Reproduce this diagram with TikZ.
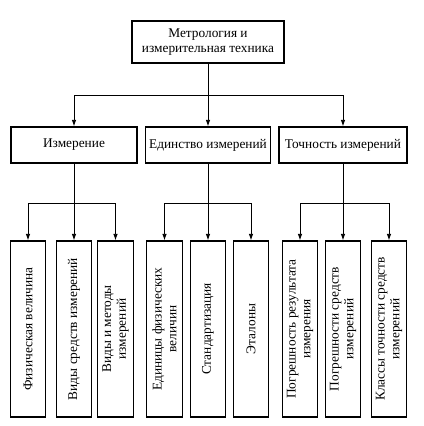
\documentclass[tikz,border=0pt]{standalone}
\usepackage{fontspec}
\setmainfont{Liberation Serif}
\usetikzlibrary{arrows.meta}

\tikzset{
  box/.style={draw, line width=0.8pt, align=center, inner sep=2pt, font=\fontsize{10}{11}\selectfont},
  vbox/.style={box, rotate=90, minimum width=132pt, minimum height=26.5pt},
  arr/.style={-{Latex[length=5pt,width=3.5pt]}, line width=0.7pt}
}

\begin{document}
\begin{tikzpicture}[x=0.75pt, y=-0.75pt]
  \useasboundingbox (0,0) rectangle (424,426);

  % Top
  \node[box, minimum width=114pt, minimum height=31.5pt] (metr) at (208,42) {Метрология и\\измерительная техника};

  % Second level
  \node[box, minimum width=94.5pt, minimum height=27pt] (izm) at (74,145) {Измерение};
  \node[box, minimum width=94pt, minimum height=27pt] (ed) at (208,145) {Единство измерений};
  \node[box, minimum width=96pt, minimum height=27pt] (toch) at (343,145) {Точность измерений};

  % Bottom level
  \node[vbox] (b1) at (28,329) {Физическая величина};
  \node[vbox] (b2) at (74,329) {Виды средств измерений};
  \node[vbox] (b3) at (115.5,329) {Виды и методы\\измерений};
  \node[vbox] (b4) at (164.5,329) {Единицы физических\\величин};
  \node[vbox] (b5) at (208,329) {Стандартизация};
  \node[vbox] (b6) at (251,329) {Эталоны};
  \node[vbox] (b7) at (300,329) {Погрешность результата\\измерения};
  \node[vbox] (b8) at (343,329) {Погрешности средств\\измерений};
  \node[vbox] (b9) at (389,329) {Классы точности средств\\измерений};

  % Junctions
  \coordinate (j0) at (208,95);
  \coordinate (j1) at (74,203);
  \coordinate (j2) at (208,203);
  \coordinate (j3) at (343,203);

  % Edges
  \draw[arr] (metr) -- (ed);
  \draw[arr] (j0) -| (izm);
  \draw[arr] (j0) -| (toch);

  \draw[arr] (izm) -- (b2);
  \draw[arr] (j1) -| (b1);
  \draw[arr] (j1) -| (b3);

  \draw[arr] (ed) -- (b5);
  \draw[arr] (j2) -| (b4);
  \draw[arr] (j2) -| (b6);

  \draw[arr] (toch) -- (b8);
  \draw[arr] (j3) -| (b7);
  \draw[arr] (j3) -| (b9);
\end{tikzpicture}
\end{document}
